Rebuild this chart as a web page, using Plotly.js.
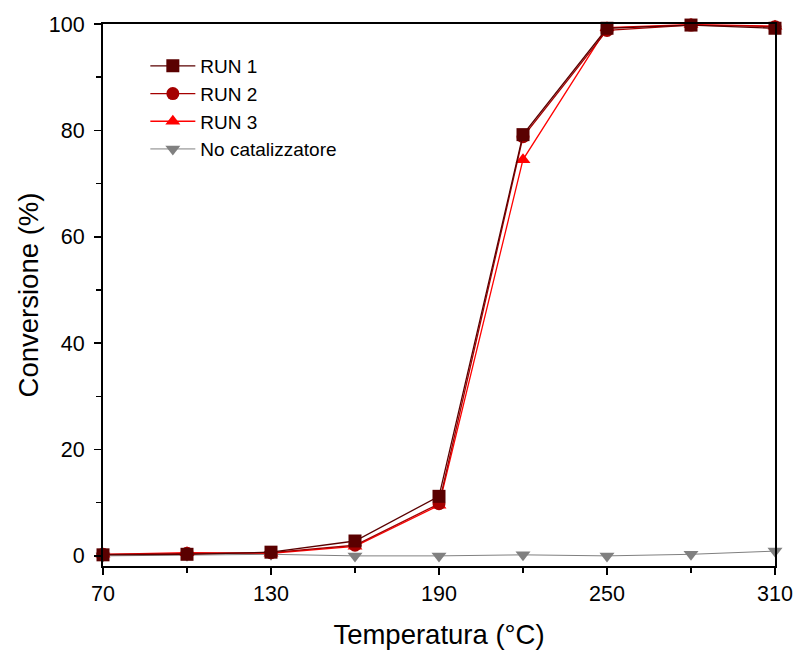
<!DOCTYPE html>
<html><head><meta charset="utf-8">
<script src="https://cdn.plot.ly/plotly-3.0.1.min.js"></script>
<style>body{margin:0;padding:0;background:#fff}#chart{width:797px;height:652px}</style>
</head><body><div id="chart"></div>
<script>
const temps = [70, 100, 130, 160, 190, 220, 250, 280, 310];
const run1 = [0.2, 0.3, 0.7, 2.8, 11.2, 79.2, 99.2, 99.8, 99.2];
const run2 = [0.3, 0.5, 0.6, 2.0, 9.8, 78.8, 98.8, 99.8, 99.5];
const run3 = [0.3, 0.6, 0.5, 1.8, 9.5, 74.5, 99.3, 99.9, 99.6];
const noCat = [0.0, 0.1, 0.3, 0.0, 0.0, 0.2, 0.0, 0.3, 0.9];
const names = ['RUN 1', 'RUN 2', 'RUN 3', 'No catalizzatore'];
const xTicks = [70, 130, 190, 250, 310];
const yTicks = [0, 20, 40, 60, 80, 100];

function tr(y, name, color, symbol, w) {
  return {x: temps, y: y, name: name, type: 'scatter', mode: 'lines+markers',
    line: {color: color, width: w},
    marker: {color: color, symbol: symbol, size: 13}, cliponaxis: false};
}
const data = [
  tr(noCat, names[3], '#808080', 'triangle-down', 1),
  tr(run3, names[2], '#ff0000', 'triangle-up', 1.3),
  tr(run2, names[1], '#a50000', 'circle', 1.3),
  tr(run1, names[0], '#5a0000', 'square', 1.3)
];
const fam = 'Liberation Sans, Arial, sans-serif';
const layout = {
  width: 797, height: 652,
  margin: {l: 103, r: 22, t: 24, b: 86},
  paper_bgcolor: '#fff', plot_bgcolor: '#fff',
  font: {family: fam, color: '#000'},
  showlegend: true,
  legend: {x: 0.063, y: 0.9576, xanchor: 'left', yanchor: 'top', traceorder: 'reversed',
    itemwidth: 45,
    font: {family: fam, size: 19, color: '#000'}, bgcolor: 'rgba(0,0,0,0)', tracegroupgap: 0},
  xaxis: {range: [70, 310], tickvals: xTicks, ticktext: xTicks.map(String),
    ticks: 'outside', ticklen: 7, tickwidth: 1.5, tickcolor: '#000',
    minor: {dtick: 30, tick0: 70, ticks: 'outside', ticklen: 5, tickwidth: 1.5, tickcolor: '#000'},
    showline: true, linecolor: '#000', linewidth: 2, mirror: true, showgrid: false, zeroline: false,
    tickfont: {family: fam, size: 21.5, color: '#000'},
    title: {text: 'Temperatura (°C)', font: {family: fam, size: 27.5, color: '#000'}, standoff: 20}},
  yaxis: {range: [-1.9, 100], tickvals: yTicks, ticktext: yTicks.map(String),
    ticks: 'outside', ticklen: 7, tickwidth: 1.5, tickcolor: '#000', ticklabelstandoff: 5,
    minor: {dtick: 10, tick0: 0, ticks: 'outside', ticklen: 5, tickwidth: 1.5, tickcolor: '#000'},
    showline: true, linecolor: '#000', linewidth: 2, mirror: true, showgrid: false, zeroline: false,
    tickfont: {family: fam, size: 21.5, color: '#000'},
    title: {text: 'Conversione (%)', font: {family: fam, size: 27.5, color: '#000'}, standoff: 2}}
};
Plotly.newPlot('chart', data, layout, {displayModeBar: false, staticPlot: true});
</script></body></html>
